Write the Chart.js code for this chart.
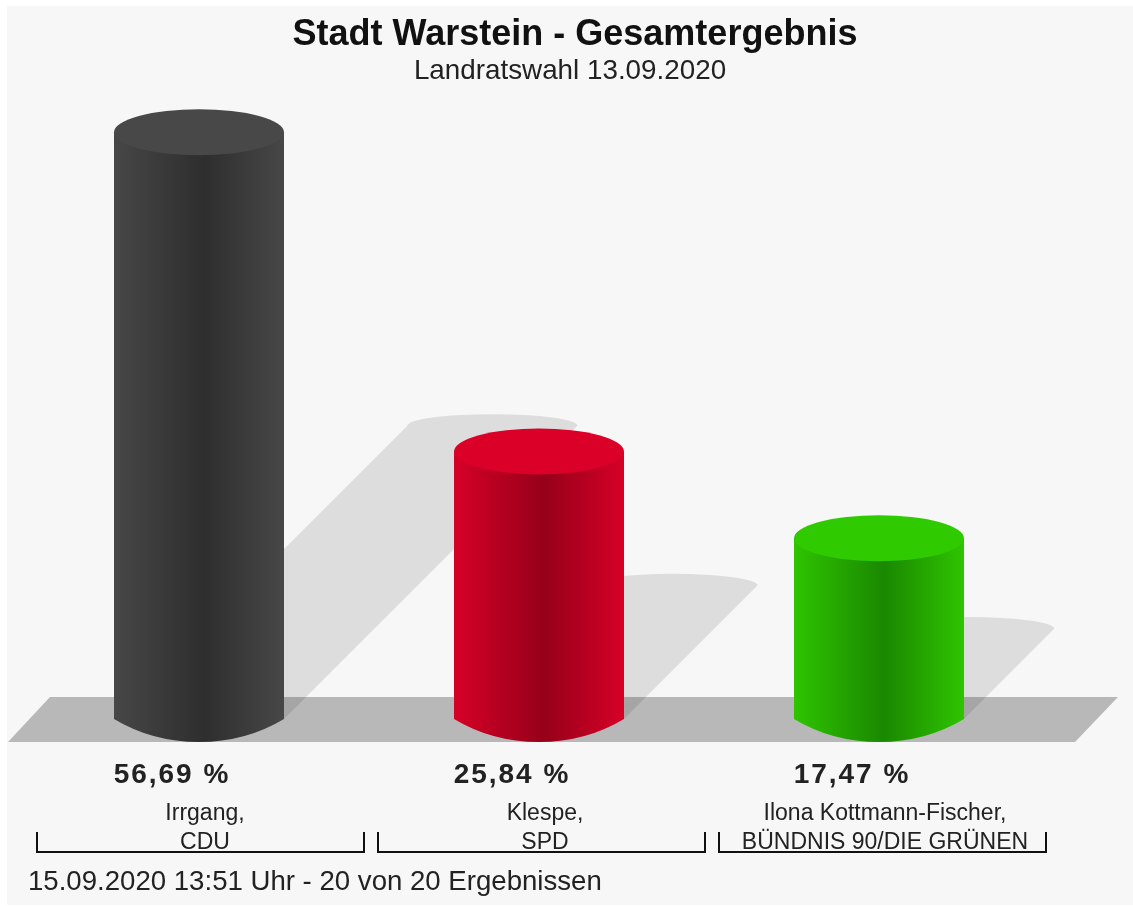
<!DOCTYPE html>
<html>
<head>
<meta charset="utf-8">
<title>Stadt Warstein - Gesamtergebnis</title>
<script src="https://cdn.jsdelivr.net/npm/chart.js@4"></script>
<style>
html, body { margin: 0; padding: 0; background: #ffffff; }
#wrap { width: 1133px; height: 906px; }
</style>
</head>
<body>
<div id="wrap"><canvas id="wahl_canvas" width="1133" height="906"></canvas></div>
<script>
// values
var candidates = [
    ["Irrgang,", "CDU"],
    ["Klespe,", "SPD"],
    ["Ilona Kottmann-Fischer,", "BÜNDNIS 90/DIE GRÜNEN"]
];
var percentages = [56.69, 25.84, 17.47];
var edgeColors = ["#474747", "#d60027", "#2fc400"];
var coreColors = ["#2e2e2e", "#96001a", "#1a8800"];
var capColors = ["#484848", "#da0027", "#2fcb00"];

var titleText = "Stadt Warstein - Gesamtergebnis";
var subtitleText = "Landratswahl 13.09.2020";
var footerText = "15.09.2020 13:51 Uhr - 20 von 20 Ergebnissen";

var fontName = "'Liberation Sans', Arial, sans-serif";
var capRy = 23;

function bodyGradient(ctx, x, half, i) {
    var g = ctx.createLinearGradient(x - half, 0, x + half, 0);
    g.addColorStop(0, edgeColors[i]);
    g.addColorStop(0.53, coreColors[i]);
    g.addColorStop(1, edgeColors[i]);
    return g;
}

var cylinderPlugin = {
    id: "cylinders",
    afterLayout: function (chart) {
        // the headings are not centred on the plot in the original
        chart.boxes.forEach(function (box) {
            if (!box.options) return;
            var shift = 0;
            if (box.options.text === titleText) shift = 36;
            if (box.options.text === subtitleText) shift = 31;
            box.left += shift;
            box.right += shift;
        });
    },
    beforeDraw: function (chart) {
        var c = chart.ctx;
        c.save();
        c.fillStyle = "#f7f7f7";
        c.fillRect(7, 6, chart.width - 7, chart.height - 7);
        c.restore();
    },
    beforeDatasetsDraw: function (chart) {
        var c = chart.ctx;
        var base = chart.scales.y.getPixelForValue(0);
        var area = chart.chartArea;
        c.save();

        // floor
        c.fillStyle = "#b8b8b8";
        c.beginPath();
        c.moveTo(area.left - 21, base + 23);
        c.lineTo(area.left + 21, base - 22);
        c.lineTo(area.right + 69, base - 22);
        c.lineTo(area.right + 26, base + 23);
        c.closePath();
        c.fill();

        // shadows, half the height and sheared to the right
        c.fillStyle = "rgba(0, 0, 0, 0.1)";
        chart.getDatasetMeta(0).data.forEach(function (bar) {
            var half = bar.width / 2;
            var h = (base - bar.y) / 2;
            c.beginPath();
            c.moveTo(bar.x + half, base);
            c.lineTo(bar.x + half + h, base - h);
            c.ellipse(bar.x + h, base - h, half, capRy / 2, 0, 0, Math.PI, true);
            c.lineTo(bar.x - half, base);
            c.closePath();
            c.fill();
        });
        c.restore();
    },
    afterDatasetsDraw: function (chart) {
        var c = chart.ctx;
        var base = chart.scales.y.getPixelForValue(0);
        c.save();
        chart.getDatasetMeta(0).data.forEach(function (bar, i) {
            var half = bar.width / 2;

            // round bottom
            c.fillStyle = bodyGradient(c, bar.x, half, i);
            c.beginPath();
            c.moveTo(bar.x - half, base);
            c.quadraticCurveTo(bar.x - half * 0.55, base + capRy, bar.x, base + capRy);
            c.quadraticCurveTo(bar.x + half * 0.55, base + capRy, bar.x + half, base);
            c.closePath();
            c.fill();

            // top face
            c.fillStyle = capColors[i];
            c.beginPath();
            c.ellipse(bar.x, bar.y, half, capRy, 0, 0, Math.PI * 2);
            c.fill();

            // percent value
            c.fillStyle = "#222222";
            c.font = "bold 28px " + fontName;
            c.textAlign = "center";
            c.textBaseline = "middle";
            c.letterSpacing = "2px";
            c.fillText(percentages[i].toFixed(2).replace(".", ",") + " %", bar.x - 27, 775);
            c.letterSpacing = "0px";

            // bracket under the names
            c.strokeStyle = "#111111";
            c.lineWidth = 2;
            c.beginPath();
            c.moveTo(bar.x - 162 + i, 832);
            c.lineTo(bar.x - 162 + i, 852);
            c.lineTo(bar.x + 165 + i, 852);
            c.lineTo(bar.x + 165 + i, 832);
            c.stroke();
        });

        c.fillStyle = "#222222";
        c.font = "27.6px " + fontName;
        c.textAlign = "left";
        c.textBaseline = "middle";
        c.fillText(footerText, 28, 882);
        c.restore();
    }
};

var data = {
    labels: candidates,
    datasets: [
        {
            data: percentages,
            barPercentage: 0.5,
            categoryPercentage: 1,
            borderWidth: 0,
            backgroundColor: function (context) {
                var chart = context.chart;
                var i = context.dataIndex;
                if (!chart.scales.x || !chart.chartArea) return edgeColors[i];
                var x = chart.scales.x.getPixelForValue(i);
                var half = chart.scales.x.width / chart.data.labels.length / 4;
                if (!isFinite(x) || !isFinite(half)) return edgeColors[i];
                return bodyGradient(chart.ctx, x, half, i);
            }
        }
    ]
};

var options = {
    responsive: false,
    animation: false,
    events: [],
    layout: { padding: { left: 29, right: 84, top: 0, bottom: 0 } },
    plugins: {
        legend: { display: false },
        tooltip: { enabled: false },
        title: {
            display: true,
            text: titleText,
            color: "#111111",
            font: { family: fontName, size: 36, weight: "bold" },
            padding: { top: 13, bottom: 0 }
        },
        subtitle: {
            display: true,
            text: subtitleText,
            color: "#222222",
            font: { family: fontName, size: 27.8, weight: "normal", lineHeight: 1 },
            padding: { top: 1, bottom: 13 }
        }
    },
    scales: {
        x: {
            grid: { display: false },
            border: { display: false },
            afterFit: function (axis) { axis.height = 187; },
            ticks: {
                color: "#222222",
                font: { family: fontName, size: 23, lineHeight: 1.26 },
                padding: 72,
                labelOffset: 6,
                autoSkip: false,
                maxRotation: 0
            }
        },
        y: {
            display: false,
            min: 0,
            max: 60
        }
    }
};

var config = {
    type: "bar",
    data: data,
    options: options,
    plugins: [cylinderPlugin]
};

var ctx = document.getElementById("wahl_canvas").getContext("2d");
var wahl = new Chart(ctx, config);
</script>
</body>
</html>
